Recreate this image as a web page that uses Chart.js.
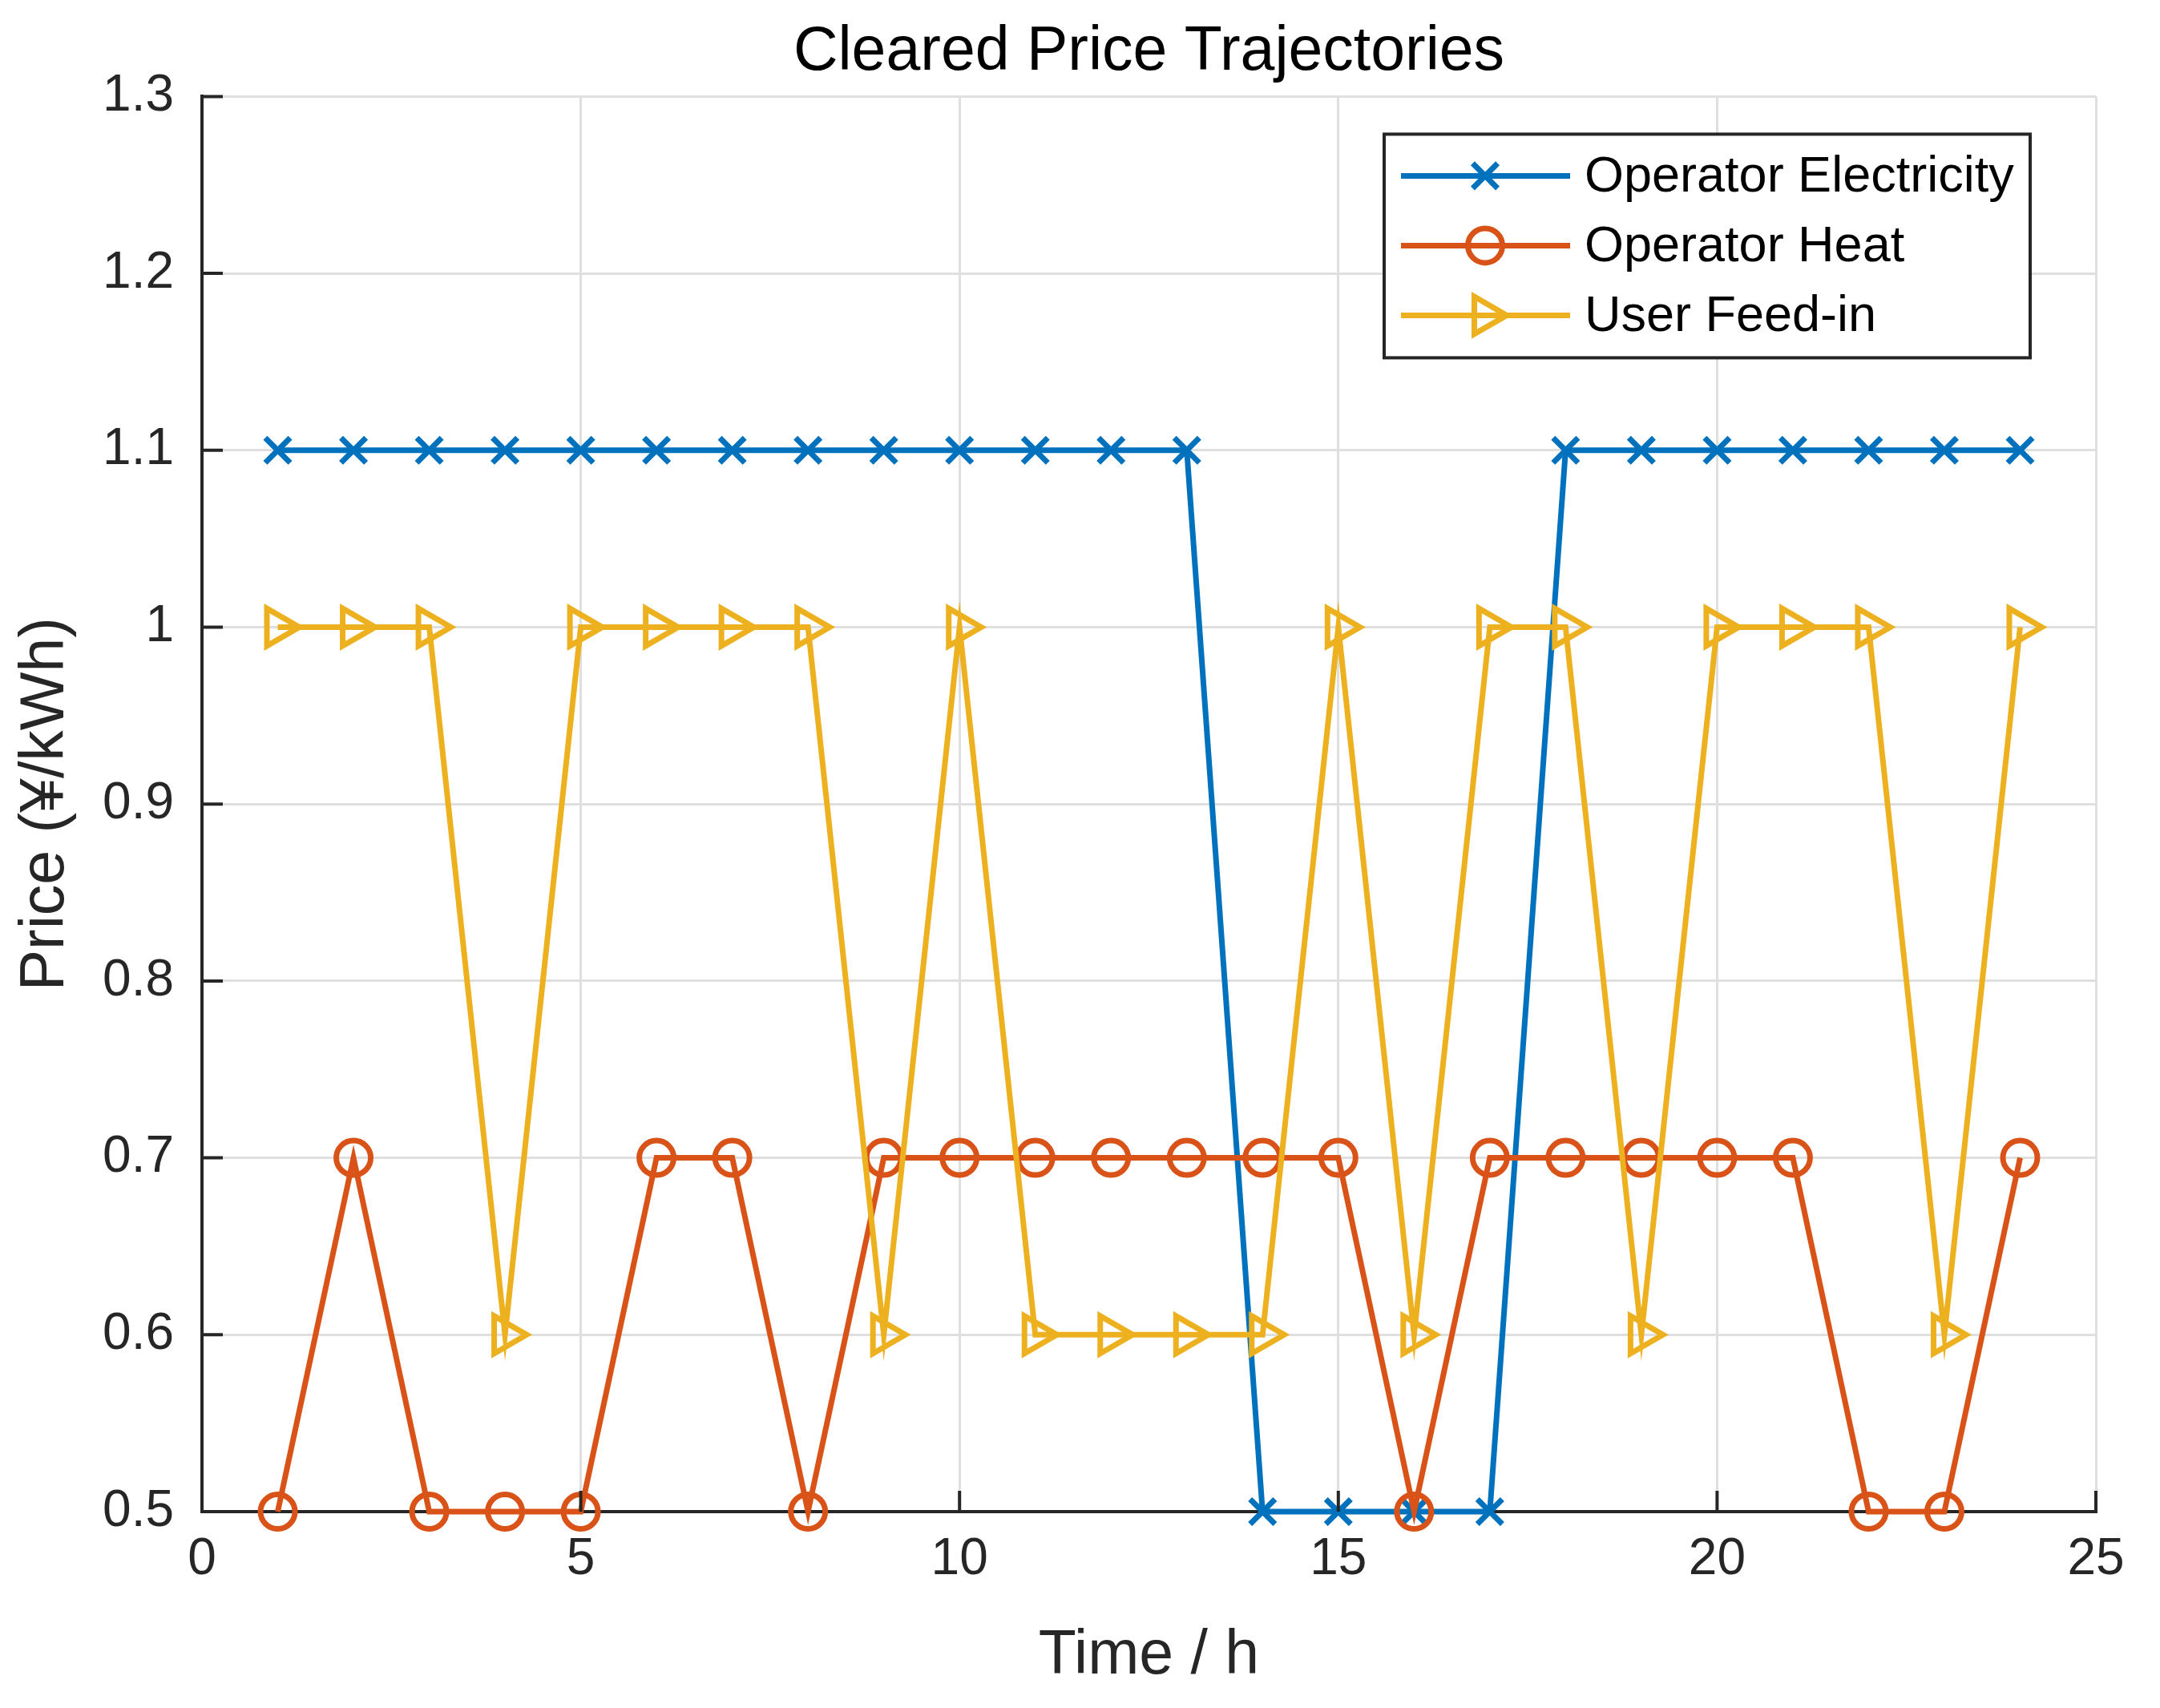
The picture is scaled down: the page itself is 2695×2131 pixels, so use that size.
<!DOCTYPE html>
<html>
<head>
<meta charset="utf-8">
<script src="https://cdn.jsdelivr.net/npm/chart.js@4.4.1/dist/chart.umd.min.js"></script>
<style>
  html, body { margin: 0; padding: 0; background: #fff; }
  canvas { display: block; }
</style>
</head>
<body>
<canvas id="c" width="2695" height="2131" style="width:2695px;height:2131px"></canvas>
<script>
// 資料
const hours = [1, 2, 3, 4, 5, 6, 7, 8, 9, 10, 11, 12, 13, 14, 15, 16, 17, 18, 19, 20, 21, 22, 23, 24];
const operatorElectricity = [1.1, 1.1, 1.1, 1.1, 1.1, 1.1, 1.1, 1.1, 1.1, 1.1, 1.1, 1.1, 1.1, 0.5, 0.5, 0.5, 0.5, 1.1, 1.1, 1.1, 1.1, 1.1, 1.1, 1.1];
const operatorHeat = [0.5, 0.7, 0.5, 0.5, 0.5, 0.7, 0.7, 0.5, 0.7, 0.7, 0.7, 0.7, 0.7, 0.7, 0.7, 0.5, 0.7, 0.7, 0.7, 0.7, 0.7, 0.5, 0.5, 0.7];
const userFeedIn = [1, 1, 1, 0.6, 1, 1, 1, 1, 0.6, 1, 0.6, 0.6, 0.6, 0.6, 1, 0.6, 1, 1, 0.6, 1, 1, 1, 0.6, 1];
const seriesLabels = ['Operator Electricity', 'Operator Heat', 'User Feed-in'];
const xTicks = [0, 5, 10, 15, 20, 25];
const yTicks = [0.5, 0.6, 0.7, 0.8, 0.9, 1.0, 1.1, 1.2, 1.3];
const yTickLabels = ['0.5', '0.6', '0.7', '0.8', '0.9', '1', '1.1', '1.2', '1.3'];

const FONT = "'Liberation Sans', Arial, Helvetica, sans-serif";
const AXIS_COLOR = '#262626';
const GRID_COLOR = '#dfdfdf';

const toPoints = (vals) => hours.map((h, i) => ({ x: h, y: vals[i] }));

// 向內的刻度線 (MATLAB 風格)
const inwardTicksPlugin = {
  id: 'inwardTicks',
  afterDraw(chart) {
    const { ctx, chartArea, scales } = chart;
    const len = 26;
    ctx.save();
    ctx.strokeStyle = AXIS_COLOR;
    ctx.lineWidth = 4;
    ctx.beginPath();
    xTicks.forEach(v => {
      const px = scales.x.getPixelForValue(v);
      ctx.moveTo(px, chartArea.bottom);
      ctx.lineTo(px, chartArea.bottom - len);
    });
    yTicks.forEach(v => {
      const py = scales.y.getPixelForValue(v);
      ctx.moveTo(chartArea.left, py);
      ctx.lineTo(chartArea.left + len, py);
    });
    ctx.stroke();
    ctx.restore();
  }
};

function drawMarker(ctx, style, x, y, r, rotation) {
  ctx.beginPath();
  if (style === 'circle') {
    ctx.arc(x, y, r, 0, Math.PI * 2);
  } else if (style === 'crossRot') {
    const o = Math.cos(Math.PI / 4) * r;
    ctx.moveTo(x - o, y - o); ctx.lineTo(x + o, y + o);
    ctx.moveTo(x - o, y + o); ctx.lineTo(x + o, y - o);
  } else if (style === 'triangle') {
    let rad = (rotation || 0) * Math.PI / 180;
    ctx.moveTo(x + Math.sin(rad) * r, y - Math.cos(rad) * r);
    rad += 2 * Math.PI / 3;
    ctx.lineTo(x + Math.sin(rad) * r, y - Math.cos(rad) * r);
    rad += 2 * Math.PI / 3;
    ctx.lineTo(x + Math.sin(rad) * r, y - Math.cos(rad) * r);
    ctx.closePath();
  }
  ctx.stroke();
}

// 圖例：線 + 標記，帶黑框
const legendBoxPlugin = {
  id: 'legendBox',
  afterDraw(chart) {
    const { ctx, chartArea } = chart;
    const w = 806, h = 279;
    const bx = chartArea.right - 82 - w;
    const by = chartArea.top + 47;
    ctx.save();
    ctx.fillStyle = '#fff';
    ctx.fillRect(bx, by, w, h);
    ctx.strokeStyle = AXIS_COLOR;
    ctx.lineWidth = 4;
    ctx.strokeRect(bx, by, w, h);
    chart.data.datasets.forEach((ds, i) => {
      const y = by + 52 + i * 87;
      ctx.strokeStyle = ds.borderColor;
      ctx.lineWidth = ds.borderWidth;
      ctx.beginPath();
      ctx.moveTo(bx + 21, y);
      ctx.lineTo(bx + 232, y);
      ctx.stroke();
      ctx.lineWidth = ds.pointBorderWidth;
      drawMarker(ctx, ds.pointStyle, bx + 126, y, ds.pointRadius, ds.pointRotation);
      ctx.fillStyle = '#000';
      ctx.font = `63px ${FONT}`;
      ctx.textBaseline = 'middle';
      ctx.textAlign = 'left';
      ctx.fillText(ds.label, bx + 250, y + 2);
    });
    ctx.restore();
  }
};

function makeDataset(label, vals, color, style, radius, rotation, order) {
  return {
    label,
    data: toPoints(vals),
    borderColor: color,
    backgroundColor: color,
    borderWidth: 7,
    pointStyle: style,
    pointRadius: radius,
    pointRotation: rotation,
    pointBorderColor: color,
    pointBackgroundColor: 'rgba(0,0,0,0)',
    pointBorderWidth: 7,
    pointHoverRadius: radius,
    tension: 0,
    clip: false,
    order
  };
}

new Chart(document.getElementById('c'), {
  type: 'line',
  data: {
    datasets: [
      makeDataset(seriesLabels[0], operatorElectricity, '#0072BD', 'crossRot', 22, 0, 3),
      makeDataset(seriesLabels[1], operatorHeat, '#D95319', 'circle', 21.5, 0, 2),
      makeDataset(seriesLabels[2], userFeedIn, '#EDB120', 'triangle', 27, 90, 1)
    ]
  },
  options: {
    responsive: false,
    animation: false,
    devicePixelRatio: 1,
    layout: { padding: { left: 0, right: 80, top: 0, bottom: 0 } },
    plugins: {
      legend: { display: false },
      tooltip: { enabled: false },
      title: {
        display: true,
        fullSize: false,
        text: 'Cleared Price Trajectories',
        color: '#000',
        font: { family: FONT, size: 77, weight: 'normal' },
        padding: { top: 20, bottom: 8 }
      }
    },
    scales: {
      x: {
        type: 'linear',
        min: 0,
        max: 25,
        afterBuildTicks: (scale) => { scale.ticks = xTicks.map(v => ({ value: v })); },
        afterFit: (scale) => { scale.height = 245; },
        grid: { color: GRID_COLOR, lineWidth: 3, drawTicks: false },
        border: { color: AXIS_COLOR, width: 4 },
        ticks: { font: { family: FONT, size: 64 }, color: AXIS_COLOR, padding: 22, maxRotation: 0 },
        title: { display: true, text: 'Time / h', color: AXIS_COLOR, font: { family: FONT, size: 77 }, padding: { top: 0, bottom: 18 } }
      },
      y: {
        type: 'linear',
        min: 0.5,
        max: 1.3,
        afterBuildTicks: (scale) => { scale.ticks = yTicks.map(v => ({ value: v })); },
        afterFit: (scale) => { scale.width = 252; },
        grid: { color: GRID_COLOR, lineWidth: 3, drawTicks: false },
        border: { color: AXIS_COLOR, width: 4 },
        ticks: { font: { family: FONT, size: 64 }, color: AXIS_COLOR, padding: 35, callback: (v, i) => yTickLabels[i] },
        title: { display: true, text: 'Price (¥/kWh)', color: AXIS_COLOR, font: { family: FONT, size: 77 }, padding: { top: 12, bottom: 0 } }
      }
    }
  },
  plugins: [inwardTicksPlugin, legendBoxPlugin]
});
</script>
</body>
</html>
